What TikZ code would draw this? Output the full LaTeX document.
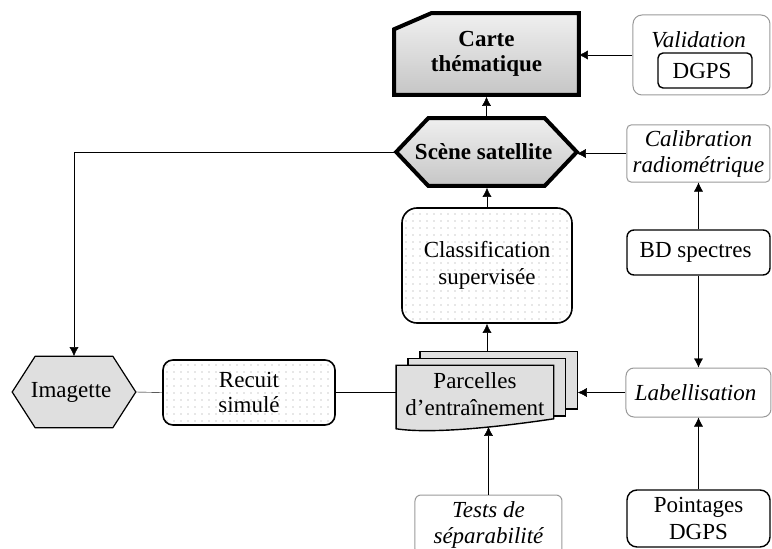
\documentclass[tikz,border=0pt]{standalone}
\usepackage{fontspec}
\setmainfont{Liberation Serif}
\usepackage{tikz}
\usetikzlibrary{arrows.meta, positioning, backgrounds}

\begin{document}
\begin{tikzpicture}[
            x=1pt, y=1pt,
            >={Latex[width=9pt,length=9pt]},
                base/.style = {rectangle, rounded corners=6pt, draw=black,
                            line width=1.2pt, text centered, align=center},
                greybox/.style = {base, draw=gray!80, line width=1pt,
                            font=\fontsize{23}{26}\selectfont\itshape},
                blackbox/.style = {base, line width=1.4pt},
                dotbox/.style = {base, line width=1.6pt, path picture={
                            \foreach \dx in {4,11,...,200}
                                \foreach \dy in {4,11,...,130}
                                    \fill[gray!80] ([shift={(\dx,\dy)}]path picture bounding box.south west) circle (0.7pt);
                            }},
                textonly/.style = {rectangle, align=center},
                mainline/.style = {draw=black, line width=4pt, line join=miter,
                            top color=gray!12, bottom color=gray!45},
                boldtext/.style = {textonly, font=\fontsize{23}{25}\selectfont\bfseries},
                sheet/.style = {draw=black, line width=1.4pt, fill=gray!25},
            node distance=100pt,
            every node/.style={font=\fontsize{23}{27}\selectfont, inner sep=2pt},
            line width=1.6pt]
            \useasboundingbox (-486.5,-397) rectangle (285.5,152);
            \node (SceneSatellite) [boldtext, minimum width=179pt, minimum height=66pt] at (0,0) {
                Scène satellite
            };
            \node (CarteThematique) [boldtext, above of=SceneSatellite, yshift=-2pt,
                minimum width=183pt, minimum height=80pt] {
                Carte\\thématique
            };
            \node (Validation) [greybox, right of=CarteThematique, xshift=115pt, yshift=-1pt,
                rounded corners=9pt, minimum width=137pt, minimum height=80pt, text depth=30pt] {
                Validation
            };
            \node (DGPS) [blackbox, minimum width=94pt, minimum height=35pt, rounded corners=5pt]
                at ([shift={(3.5pt,-15.5pt)}]Validation.center) {
                DGPS
            };
            \node (Calibration) [greybox, right of=SceneSatellite, xshift=112pt, yshift=-1.5pt,
                rounded corners=4pt, minimum width=143pt, minimum height=57pt] {
                Calibration\\radiométrique
            };
            \node (BDSpectres) [blackbox, below of=Calibration, yshift=1pt,
                rounded corners=7pt, minimum width=143pt, minimum height=45pt] {
                BD spectres
            };
            \node (Classification) [dotbox, below of=SceneSatellite, xshift=0.5pt, yshift=-13.5pt,
                rounded corners=15pt, minimum width=170pt, minimum height=115pt] {
                Classification\\supervisée
            };
            \node (Parcelles) [textonly, below of=Classification, xshift=-12pt, yshift=-28.5pt,
                minimum width=156pt, minimum height=56pt] {
                Parcelles\\d’entraînement
            };
            \node (Labellisation) [greybox, below of=BDSpectres, yshift=-40pt,
                rounded corners=8pt, minimum width=145pt, minimum height=49pt] {
                Labellisation
            };
            \node (Pointages) [blackbox, below of=Labellisation, yshift=-26pt,
                rounded corners=10pt, minimum width=143pt, minimum height=57pt] {
                Pointages\\DGPS
            };
            \node (Tests) [greybox, below of=Parcelles, xshift=13.5pt, yshift=-31pt,
                rounded corners=6pt, minimum width=147pt, minimum height=60pt] {
                Tests de\\séparabilité
            };
            \node (RecuitSimule) [dotbox, left of=Parcelles, xshift=-126pt, yshift=1.5pt,
                rounded corners=10pt, minimum width=172pt, minimum height=65pt,
                font=\fontsize{23}{25}\selectfont] {
                Recuit\\simulé
            };
            \node (Imagette) [textonly, left of=RecuitSimule, xshift=-75pt, yshift=0.5pt,
                minimum width=122pt, minimum height=70pt] {
                Imagette
            };
            % outlines drawn behind the node texts
            \begin{pgfonlayer}{background}
                \draw[mainline] (SceneSatellite.west)
                    -- ([xshift=32pt]SceneSatellite.north west)
                    -- ([xshift=-32pt]SceneSatellite.north east)
                    -- (SceneSatellite.east)
                    -- ([xshift=-32pt]SceneSatellite.south east)
                    -- ([xshift=32pt]SceneSatellite.south west) -- cycle;
                \draw[mainline] (CarteThematique.south west)
                    -- ([yshift=-16pt]CarteThematique.north west)
                    -- ([xshift=37pt]CarteThematique.north west)
                    -- (CarteThematique.north east)
                    -- (CarteThematique.south east) -- cycle;
                \filldraw[sheet, line width=1.2pt] (Imagette.west)
                    -- ([xshift=23pt]Imagette.north west)
                    -- ([xshift=-23pt]Imagette.north east)
                    -- (Imagette.east)
                    -- ([xshift=-23pt]Imagette.south east)
                    -- ([xshift=23pt]Imagette.south west) -- cycle;
                \filldraw[sheet] ([shift={(24pt,14pt)}]Parcelles.north west)
                    rectangle ([shift={(24pt,14pt)}]Parcelles.south east);
                \filldraw[sheet] ([shift={(12pt,7pt)}]Parcelles.north west)
                    rectangle ([shift={(12pt,7pt)}]Parcelles.south east);
                \filldraw[sheet] (Parcelles.north west) -- (Parcelles.north east)
                    -- ([yshift=4pt]Parcelles.south east)
                    .. controls ([shift={(-40pt,-2pt)}]Parcelles.south east)
                    and ([shift={(40pt,-12pt)}]Parcelles.south west)
                    .. ([yshift=-6pt]Parcelles.south west) -- cycle;
            \end{pgfonlayer}
            \coordinate (ParcellesBack) at ([shift={(24pt,14pt)}]Parcelles.east);
            \coordinate (ParcellesTop) at ([yshift=14pt]Parcelles.north);
            \coordinate (ParcellesWave) at ([yshift=-4pt]Parcelles.south);
            \draw[->]  (Validation.west)    -- (Validation.west -| CarteThematique.east);
            \draw[->]  (SceneSatellite.north) -- ([yshift=-2pt]CarteThematique.south);
            \draw[->]  (Calibration.west)   -- (Calibration.west -| SceneSatellite.east);
            \draw[->]  (SceneSatellite.west) -| (Imagette.north);
            \draw[->]  (Classification.north) -- ([yshift=-2pt]Classification.north |- SceneSatellite.south);
            \draw[->]  (BDSpectres.north)   -- (Calibration.south);
            \draw[->]  (BDSpectres.south)   -- (Labellisation.north);
            \draw[->]  (Pointages.north)    -- (Labellisation.south);
            \draw[->]  (Labellisation.west) -- (Labellisation.west -| ParcellesBack);
            \draw[->]  (ParcellesTop -| Classification.south) -- (Classification.south);
            \draw[->]  (Tests.north)        -- (Tests.north |- ParcellesWave);
            \draw      (Imagette.east)      -- (RecuitSimule.west);
            \draw      (RecuitSimule.east)  -- (RecuitSimule.east -| Parcelles.west);
        \end{tikzpicture}
\end{document}
